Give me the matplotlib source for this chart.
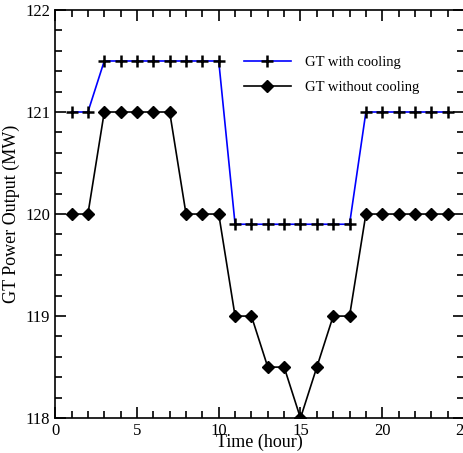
import numpy as np
import matplotlib.pyplot as plt
from matplotlib.ticker import MultipleLocator

# hourly data
hours = np.arange(1, 25)
with_cooling = [121, 121, 121.5, 121.5, 121.5, 121.5, 121.5, 121.5, 121.5, 121.5,
                119.9, 119.9, 119.9, 119.9, 119.9, 119.9, 119.9, 119.9,
                121, 121, 121, 121, 121, 121]
without_cooling = [120, 120, 121, 121, 121, 121, 121, 120, 120, 120,
                   119, 119, 118.5, 118.5, 118, 118.5, 119, 119,
                   120, 120, 120, 120, 120, 120]

plt.rcParams['font.family'] = 'Liberation Serif'

fig = plt.figure(figsize=(4.64, 4.53), dpi=100)
ax = fig.add_axes([0.119, 0.077, 0.881, 0.901])

ax.plot(hours, with_cooling, color='blue', linewidth=1.2, marker='+',
        markersize=9, markeredgewidth=1.8, markeredgecolor='black',
        label='GT with cooling', zorder=3)
ax.plot(hours, without_cooling, color='black', linewidth=1.2, marker='D',
        markersize=6, markerfacecolor='black', label='GT without cooling')

ax.set_xlim(0, 25)
ax.set_ylim(118, 122)
ax.xaxis.set_major_locator(MultipleLocator(5))
ax.xaxis.set_minor_locator(MultipleLocator(1))
ax.yaxis.set_major_locator(MultipleLocator(1))
ax.yaxis.set_minor_locator(MultipleLocator(0.2))
ax.tick_params(which='both', direction='in', top=True, right=True, labelsize=12, width=1.2)
ax.tick_params(which='major', length=8)
ax.tick_params(which='minor', length=5)
for s in ax.spines.values():
    s.set_linewidth(1.2)

ax.set_xlabel('Time (hour)', fontsize=13, labelpad=-4)
ax.set_ylabel('GT Power Output (MW)', fontsize=13, labelpad=4)

ax.legend(loc='upper left', bbox_to_anchor=(0.43, 0.92), frameon=False,
          fontsize=10.5, handlelength=3.2, labelspacing=0.8, handletextpad=1.0)

fig.savefig('out.png', dpi=100)
